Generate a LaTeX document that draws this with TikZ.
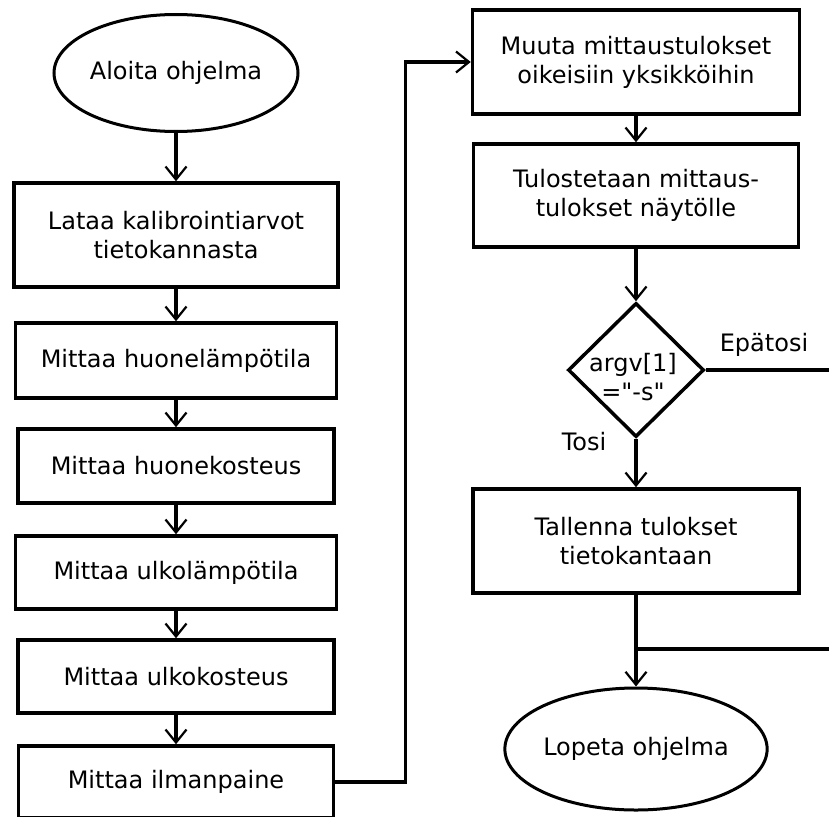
\documentclass[tikz,border=0pt]{standalone}
\usepackage{fontspec}
\newfontfamily\dvs{DejaVu Sans}
\usetikzlibrary{shapes.geometric,arrows.meta}
\begin{document}
\begin{tikzpicture}[x=1pt,y=-1pt,
  every node/.style={font=\dvs\fontsize{24}{29}\selectfont},
  box/.style={draw,line width=3.5pt,rectangle,inner sep=0pt,align=center},
  term/.style={draw,line width=3pt,ellipse,inner sep=0pt},
  dec/.style={draw,line width=3.5pt,diamond,inner sep=0pt},
  arr/.style={line width=3.5pt,-{Straight Barb[length=13pt,width=21pt,line width=2.2pt]}},
  ln/.style={line width=3.5pt}]
\useasboundingbox (0,0) rectangle (829,816);
% left column
\node[term,minimum width=244pt,minimum height=117pt] (start) at (176,73) {Aloita ohjelma};
\node[box,minimum width=324pt,minimum height=104pt] (b1) at (176,235) {Lataa kalibrointiarvot\\tietokannasta};
\node[box,minimum width=321pt,minimum height=75pt] (b2) at (176,360.5) {Mittaa huonelämpötila};
\node[box,minimum width=316pt,minimum height=74pt] (b3) at (176,466) {Mittaa huonekosteus};
\node[box,minimum width=321pt,minimum height=73pt] (b4) at (176,572.5) {Mittaa ulkolämpötila};
\node[box,minimum width=316pt,minimum height=73pt] (b5) at (176,676.5) {Mittaa ulkokosteus};
\node[box,minimum width=315pt,minimum height=72pt] (b6) at (176,782) {Mittaa ilmanpaine};
% right column
\node[box,minimum width=327pt,minimum height=104pt] (muuta) at (636,62) {Muuta mittaustulokset\\oikeisiin yksikköihin};
\node[box,minimum width=325pt,minimum height=103pt] (tulos) at (636,195.5) {Tulostetaan mittaus-\\tulokset näytölle};
\node[dec,minimum width=136pt,minimum height=134pt] (dia) at (636,370) {};
\node[align=center,inner sep=0pt] (diatext) at (633,377) {argv[1]\\="-s"};
\node[box,minimum width=326pt,minimum height=104pt] (tal) at (636,541) {Tallenna tulokset\\tietokantaan};
\node[term,minimum width=252pt,minimum height=122pt] (lop) at (636,749) {Lopeta ohjelma};
% labels
\node (epa) at (764,345) {Epätosi};
\node (tosi) at (584,442) {Tosi};
% connectors
\draw[arr] (start) -- (b1);
\draw[arr] (b1) -- (b2);
\draw[arr] (b2) -- (b3);
\draw[arr] (b3) -- (b4);
\draw[arr] (b4) -- (b5);
\draw[arr] (b5) -- (b6);
\draw[arr] (b6.east) -- ++(70,0) |- (muuta.west);
\draw[arr] (muuta) -- (tulos);
\draw[arr] (tulos) -- (dia);
\draw[arr] (dia) -- (tal);
\draw[arr] (tal) -- (lop);
\coordinate (join) at (636,649);
\coordinate (r1) at (836,370);
\draw[ln] (dia.east) -- (r1) |- (join);
\end{tikzpicture}
\end{document}
